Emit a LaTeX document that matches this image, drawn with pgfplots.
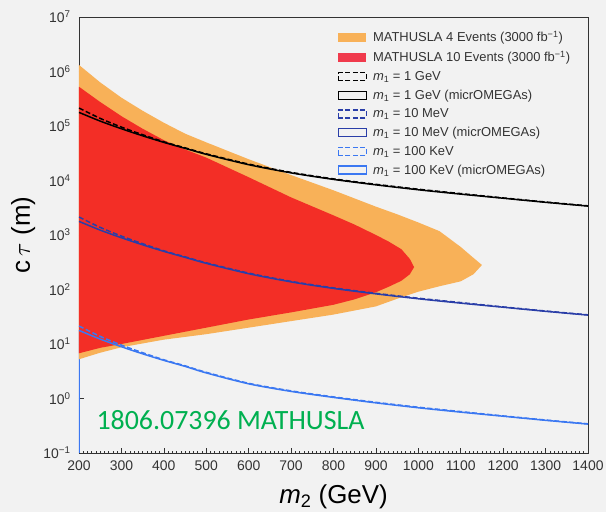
\documentclass[border=0pt]{standalone}
\usepackage{fontspec}
\setmainfont{Liberation Sans}
\newfontfamily\calibri{Carlito}
\usepackage{pgfplots}
\pgfplotsset{compat=1.18}

\definecolor{bg}{HTML}{F2F2F2}
\definecolor{four}{HTML}{F8B158}
\definecolor{ten}{HTML}{F32E26}
\definecolor{tenleg}{HTML}{F03A4C}
\definecolor{mev}{HTML}{2A3EA8}
\definecolor{kev}{HTML}{3B78F2}
\definecolor{arxiv}{HTML}{00B050}

% decade labels 10^n with a real minus sign
\newcommand\logtick[1]{\pgfmathtruncatemacro\ex{round(#1)}10\textsuperscript{\ifnum\ex<0 \char"2212\relax\number-\ex\else\ex\fi}}

\pgfplotsset{
  dashedline/.style={dash pattern=on 5bp off 2.5bp},
  arealeg/.style={legend image code/.code={\fill[#1] (0bp,-4.5bp) rectangle (28bp,4.5bp);}},
  solidleg/.style={legend image code/.code={\draw[#1, line width=1.5bp] (0bp,-4bp) rectangle (28bp,4bp);}},
  dashleg/.style={legend image code/.code={\draw[#1, line width=1.5bp, dash pattern=on 5bp off 2.5bp] (0bp,-4bp) rectangle (28bp,4bp);}},
}

\begin{document}
\begin{tikzpicture}
\fill[bg] (-79bp,-59bp) rectangle (527bp,453bp);
\useasboundingbox (-79bp,-59bp) rectangle (527bp,453bp);
\begin{axis}[
  scale only axis, width=509bp, height=436bp,
  xmin=200, xmax=1400, ymin=0.1, ymax=1e7,
  ymode=log, log basis y=10,
  xtick={200,300,...,1400}, minor x tick num=9,
  ytick={0.1,1,10,100,1000,1e4,1e5,1e6,1e7},
  yticklabel={\logtick{\tick}},
  /pgf/number format/1000 sep={},
  /pgf/number format/assume math mode=true,
  tick label style={font=\fontsize{14}{16}\selectfont, text=black!80},
  xticklabel style={yshift=-4bp},
  yticklabel style={xshift=-5bp},
  xtick pos=bottom, ytick pos=left, tick align=inside,
  major tick length=5bp, minor tick length=2.5bp,
  every tick/.style={black!80, line width=0.6bp},
  axis line style={line width=0.9bp, black!80},
  xlabel={\textit{m}\textsubscript{2} (GeV)},
  ylabel={c\,$\tau$ (m)},
  label style={font=\fontsize{26}{28}\selectfont},
  xlabel style={at={(axis description cs:0.5,0)}, anchor=base, yshift=-50.5bp},
  ylabel style={at={(axis description cs:0,0.5)}, anchor=base, yshift=49bp},
  legend style={at={(0.975,0.977)}, anchor=north east, draw=none, fill=none,
    font=\fontsize{13}{15}\selectfont, row sep=4bp, text=black!80,
    /tikz/every odd column/.append style={column sep=4bp}},
  legend cell align=left,
]

% vertical edge of the 100 keV curve at the lower mass limit
\addplot[kev, line width=1.5bp, forget plot] coordinates {(200,0.1)(200,17.78)};

% MATHUSLA 4-event region
\addplot[fill=four, draw=none, arealeg=four] coordinates {
  (200,1.318e6)(250,6.31e5)(300,3.31e5)(350,1.905e5)(400,1.148e5)(450,7.24e4)
  (500,5.01e4)(600,2.455e4)(700,1.259e4)(800,6607)(900,3311)(950,2400)
  (1000,1698)(1050,1175)(1100,602.6)(1130,380.2)(1150,281.8)
  (1130,190.5)(1100,141.3)(1050,114.8)(1000,91.2)(950,67.61)(900,48.98)
  (800,34.67)(700,26.30)(600,19.95)(500,15.14)(400,12.02)(300,8.71)
  (250,6.92)(200,5.25)
};
\addlegendentry{MATHUSLA 4 Events (3000 fb\textsuperscript{\char"2212\relax 1})}

% MATHUSLA 10-event region
\addplot[fill=ten, draw=none, arealeg=tenleg] coordinates {
  (200,5.248e5)(250,2.754e5)(300,1.514e5)(350,8.91e4)(400,5.50e4)(450,3.715e4)
  (500,2.63e4)(600,1.148e4)(700,4898)(800,2291)(850,1549)(900,1000)
  (930,758.6)(960,549.5)(980,363.1)(990,257)
  (980,190.5)(960,144.5)(930,112.2)(900,89.13)(850,66.07)(800,52.48)
  (700,38.02)(600,28.18)(500,19.95)(400,14.13)(300,10.0)(250,8.51)(200,6.76)
};
\addlegendentry{MATHUSLA 10 Events (3000 fb\textsuperscript{\char"2212\relax 1})}

% m1 = 1 GeV
\addplot[black, line width=1.5bp, dashedline, smooth, dashleg=black] coordinates {
  (200,213800)(250,138000)(300,95500)(350,69200)(400,51300)(450,39800)
  (500,30900)(600,20000)(700,14100)(800,10700)(900,8510)(1000,6920)
  (1100,5750)(1200,4790)(1300,4030)(1400,3430)
};
\addlegendentry{\textit{m}\textsubscript{1} = 1 GeV}
\addplot[black, line width=1.5bp, smooth, solidleg=black] coordinates {
  (200,177800)(250,123000)(300,89100)(350,66100)(400,50100)(450,38900)
  (500,30200)(600,19500)(700,13800)(800,10470)(900,8320)(1000,6760)
  (1100,5620)(1200,4730)(1300,3980)(1400,3390)
};
\addlegendentry{\textit{m}\textsubscript{1} = 1 GeV (micrOMEGAs)}

% m1 = 10 MeV
\addplot[mev, line width=1.5bp, dashedline, smooth, dashleg=mev] coordinates {
  (200,2138)(250,1380)(300,955)(350,692)(400,513)(450,398)
  (500,309)(600,200)(700,141)(800,107)(900,85.1)(1000,69.2)
  (1100,57.5)(1200,47.9)(1300,40.3)(1400,34.3)
};
\addlegendentry{\textit{m}\textsubscript{1} = 10 MeV}
\addplot[mev, line width=1.5bp, smooth, solidleg=mev] coordinates {
  (200,1778)(250,1230)(300,891)(350,661)(400,501)(450,389)
  (500,302)(600,195)(700,138)(800,104.7)(900,83.2)(1000,67.6)
  (1100,56.2)(1200,47.3)(1300,39.8)(1400,33.9)
};
\addlegendentry{\textit{m}\textsubscript{1} = 10 MeV (micrOMEGAs)}

% m1 = 100 keV
\addplot[kev, line width=1.5bp, dashedline, smooth, dashleg=kev] coordinates {
  (200,21.38)(250,13.80)(300,9.55)(350,6.92)(400,5.13)(450,3.98)
  (500,3.02)(600,1.90)(700,1.38)(800,1.07)(900,0.851)(1000,0.692)
  (1100,0.575)(1200,0.479)(1300,0.403)(1400,0.343)
};
\addlegendentry{\textit{m}\textsubscript{1} = 100 KeV}
\addplot[kev, line width=1.5bp, smooth, solidleg=kev] coordinates {
  (200,17.78)(250,12.30)(300,8.91)(350,6.61)(400,5.01)(450,3.89)
  (500,2.95)(600,1.86)(700,1.35)(800,1.047)(900,0.832)(1000,0.676)
  (1100,0.562)(1200,0.473)(1300,0.398)(1400,0.339)
};
\addlegendentry{\textit{m}\textsubscript{1} = 100 KeV (micrOMEGAs)}

\node[anchor=base west, text=arxiv, font=\calibri\fontsize{28}{30}\selectfont]
  at (rel axis cs:0.0275,0.0528) {1806.07396 MATHUSLA};
\end{axis}
\end{tikzpicture}
\end{document}
